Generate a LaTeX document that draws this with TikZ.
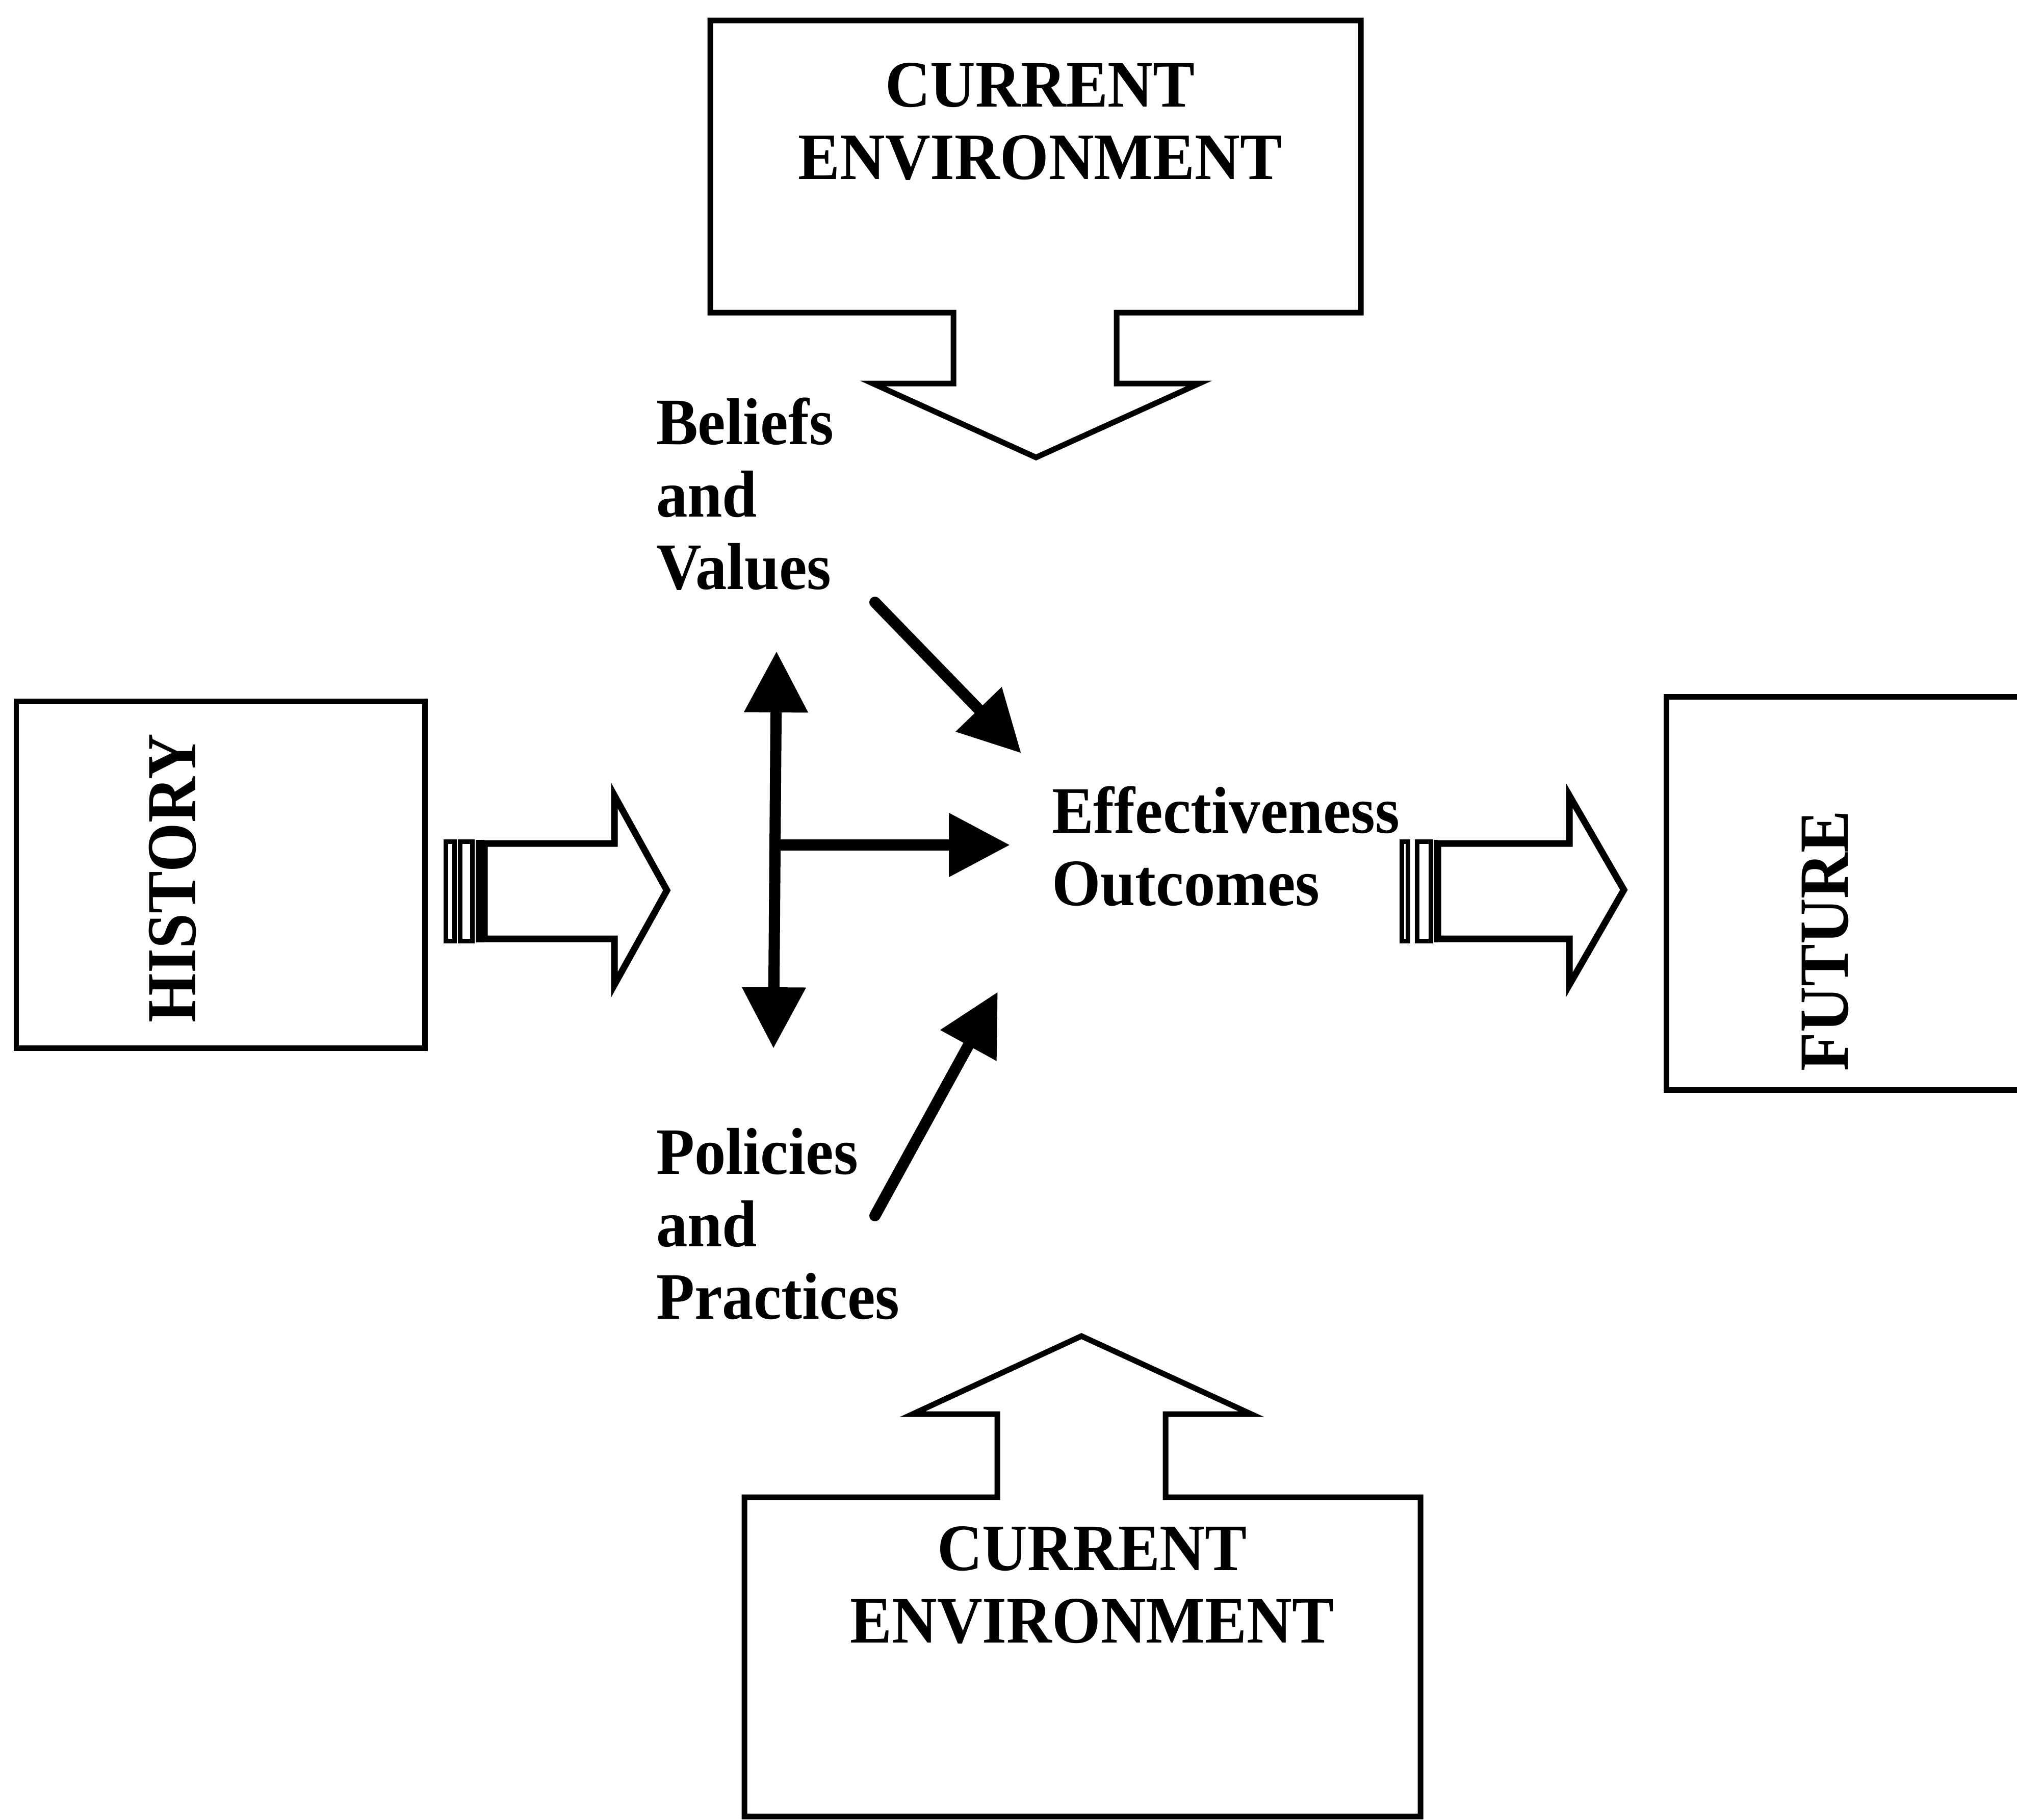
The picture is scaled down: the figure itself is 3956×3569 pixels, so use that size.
\documentclass[tikz,border=0pt]{standalone}
\usepackage{fontspec}
\newfontfamily\lblfont{Liberation Serif}[FakeStretch=0.945]
\newfontfamily\vlblfont{Liberation Serif}[FakeStretch=0.9]
\usetikzlibrary{arrows.meta}
\begin{document}
\begin{tikzpicture}[x=0.1pt,y=-0.1pt,
  boxline/.style={draw=black,line width=1.1pt,line join=miter},
  hollow/.style={draw=black,line width=1.3pt,line join=miter,fill=white},
  stripe/.style={draw=black,line width=0.9pt},
  solidarrow/.style={line width=2.2pt,-{Triangle[length=12pt,width=12pt]}},
  lbl/.style={font=\lblfont\bfseries\fontsize{13}{14.2}\selectfont,inner sep=0pt},
  vlbl/.style={font=\vlblfont\bfseries\fontsize{13.8}{16}\selectfont,inner sep=0pt,rotate=90,anchor=base}]
\useasboundingbox (0,0) rectangle (3956,3569);
\fill[white] (0,0) rectangle (3956,3569);

% top callout
\draw[boxline] (1393,40) -- (2669,40) -- (2669,613) -- (2190,613) -- (2190,752)
  -- (2352,752) -- (2032,897) -- (1712,752) -- (1870,752) -- (1870,613)
  -- (1393,613) -- cycle;
% bottom callout
\draw[boxline] (2121,2620) -- (2454,2773) -- (2286,2773) -- (2286,2936)
  -- (2786,2936) -- (2786,3562) -- (1460,3562) -- (1460,2936) -- (1956,2936)
  -- (1956,2773) -- (1790,2773) -- cycle;
% side boxes
\draw[boxline] (32,1375) rectangle (833,2055);
\draw[boxline] (3268,1366) rectangle (4000,2137);

% left striped arrow
\draw[stripe] (874,1650) rectangle (891,1845);
\draw[stripe] (902,1650) rectangle (926,1845);
\fill (933,1647) rectangle (950,1848);
\draw[hollow] (950,1654) -- (1205,1654) -- (1205,1560) -- (1308,1746)
  -- (1205,1931) -- (1205,1841) -- (950,1841) -- cycle;
% right striped arrow
\draw[stripe] (2749,1650) rectangle (2761,1845);
\draw[stripe] (2779,1650) rectangle (2806,1845);
\fill (2812,1647) rectangle (2820,1848);
\draw[hollow] (2820,1654) -- (3078,1654) -- (3078,1560) -- (3185,1745)
  -- (3078,1931) -- (3078,1841) -- (2820,1841) -- cycle;

% labels
\node[lbl,anchor=north,align=center] (curtop) at (2040,121) {CURRENT\\ENVIRONMENT};
\node[lbl,anchor=north,align=center] (curbot) at (2142,2991) {CURRENT\\ENVIRONMENT};
\node[vlbl] (history) at (384,1722) {HISTORY};
\node[vlbl] (future) at (3624,1845) {FUTURE};
\node[lbl,anchor=north west,align=left] (beliefs) at (1285,778) {Beliefs\\and\\Values};
\node[lbl,anchor=north west,align=left] (policies) at (1285,2210) {Policies\\and\\Practices};
\node[lbl,anchor=north west,align=left] (effect) at (2061,1540) {Effectiveness\\Outcomes};

% solid arrows
\coordinate (vtop) at (1523,1277);
\coordinate (vbot) at (1517,2056);
\coordinate (hmid) at (1520,1657);
\coordinate (htip) at (1981,1657);
\coordinate (d1s) at (1716,1181);
\coordinate (d1e) at (2003,1477);
\coordinate (d2s) at (1716,2384);
\coordinate (d2e) at (1957,1945);
\draw[line width=2.2pt,{Triangle[length=12pt,width=12pt]}-{Triangle[length=12pt,width=12pt]}] (vtop) -- (vbot);
\draw[solidarrow] (hmid) -- (htip);
\draw[solidarrow,line cap=round] (d1s) -- (d1e);
\draw[solidarrow,line cap=round] (d2s) -- (d2e);
\end{tikzpicture}
\end{document}
